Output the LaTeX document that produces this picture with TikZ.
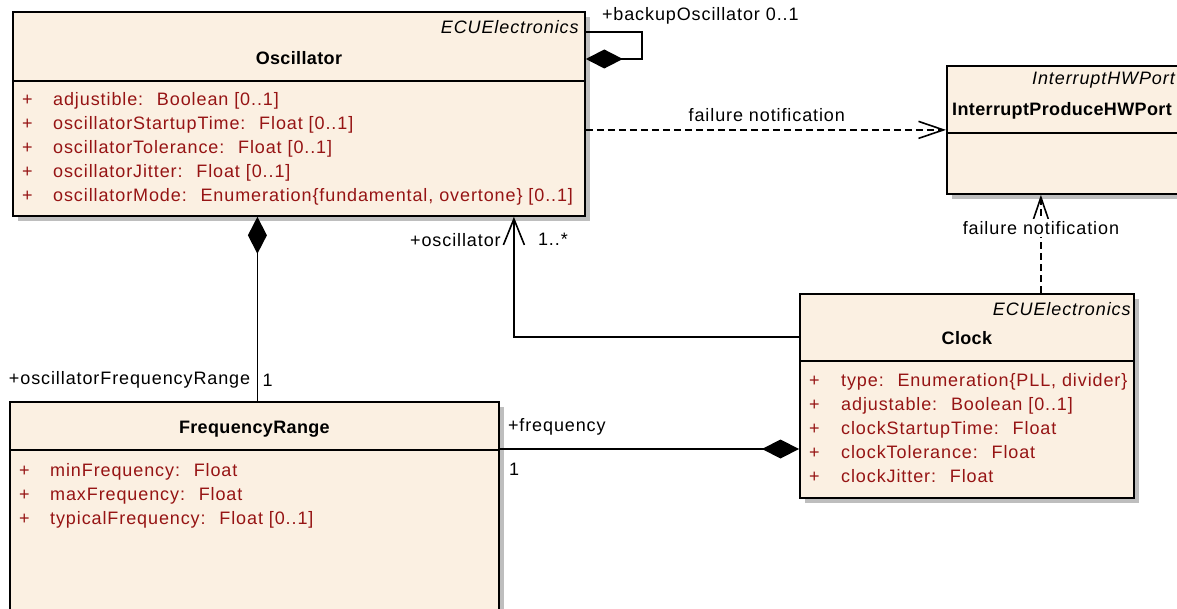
\documentclass[tikz,border=0pt]{standalone}
\usepackage{fontspec}
\setmainfont{Liberation Sans}[LetterSpace=5, BoldFeatures={LetterSpace=2}]
\usepackage{tikz}
\usetikzlibrary{positioning, arrows.meta, calc, shadows}
\usepackage{xcolor}
\definecolor{umlFill}{HTML}{FBF0E2}
\definecolor{umlShadow}{HTML}{BEBEBE}
\definecolor{umlAttr}{HTML}{961414}
\newcommand{\umlsize}{\fontsize{18}{22}\selectfont}

\tikzset{
  classbox/.style={draw=black, line width=1.8pt, fill=umlFill, anchor=north west,
    inner sep=0pt, drop shadow={shadow xshift=5pt, shadow yshift=-5pt, fill=umlShadow, opacity=1}},
  divider/.style={draw=black, line width=1.6pt},
  stereo/.style={anchor=east, font=\umlsize\itshape, inner sep=0pt},
  classname/.style={font=\umlsize\bfseries, inner sep=0pt},
  attr/.style={anchor=base west, text=umlAttr, inner sep=0pt},
  lbl/.style={inner sep=0pt},
  link/.style={draw=black, line width=1.6pt},
  comp/.style={link, -{Diamond[length=37pt, width=19pt]}},
  nav/.style={link, -{Straight Barb[length=26pt, width=21pt, line width=1.6pt]}},
  dep/.style={link, dash pattern=on 7pt off 4pt, -{Straight Barb[length=25pt, width=17pt, line width=1.6pt]}}
}

\begin{document}
\begin{tikzpicture}[x=1pt, y=-1pt, font=\umlsize]
  \useasboundingbox (0,0) rectangle (1177,609);

  % Klassen
  \node[classbox, minimum width=572pt, minimum height=204pt] (osc) at (12,11) {};
  \node[classbox, minimum width=240pt, minimum height=128pt] (port) at (946,65) {};
  \node[classbox, minimum width=334pt, minimum height=204pt] (clk) at (799,293) {};
  \node[classbox, minimum width=489pt, minimum height=230pt] (frq) at (9,401) {};

  \draw[divider] ($(osc.north west)+(0,70)$) -- ($(osc.north east)+(0,70)$);
  \draw[divider] ($(port.north west)+(0,68)$) -- ($(port.north east)+(0,68)$);
  \draw[divider] ($(clk.north west)+(0,68)$) -- ($(clk.north east)+(0,68)$);
  \draw[divider] ($(frq.north west)+(0,49)$) -- ($(frq.north east)+(0,49)$);

  % Oscillator
  \node[stereo] (oscst) at ($(osc.north east)+(-7,16)$) {ECUElectronics};
  \node[classname] (oscname) at ($(osc.north)+(0,47)$) {Oscillator};
  \foreach \a [count=\i] in {%
    {adjustible:~ Boolean [0..1]},
    {oscillatorStartupTime:~ Float [0..1]},
    {oscillatorTolerance:~ Float [0..1]},
    {oscillatorJitter:~ Float [0..1]},
    {oscillatorMode:~ Enumeration\{fundamental, overtone\} [0..1]}%
  } {
    \node[attr] (oscp\i) at ($(osc.north west)+(10,71+24*\i)$) {+};
    \node[attr] (osca\i) at ($(osc.north west)+(41,71+24*\i)$) {\a};
  }

  % InterruptProduceHWPort
  \node[stereo] (portst) at ($(port.north west)+(229,15)$) {InterruptHWPort};
  \node[classname, anchor=west] (portname) at ($(port.north west)+(6,46)$) {InterruptProduceHWPort};

  % Clock
  \node[stereo] (clkst) at ($(clk.north east)+(-4,16)$) {ECUElectronics};
  \node[classname] (clkname) at ($(clk.north)+(0,45)$) {Clock};
  \foreach \a [count=\i] in {%
    {type:~ Enumeration\{PLL, divider\}},
    {adjustable:~ Boolean [0..1]},
    {clockStartupTime:~ Float},
    {clockTolerance:~ Float},
    {clockJitter:~ Float}%
  } {
    \node[attr] (clkp\i) at ($(clk.north west)+(10,69+24*\i)$) {+};
    \node[attr] (clka\i) at ($(clk.north west)+(42,69+24*\i)$) {\a};
  }

  % FrequencyRange
  \node[classname] (frqname) at ($(frq.north)+(0,28)$) {FrequencyRange};
  \foreach \a [count=\i] in {%
    {minFrequency:~ Float},
    {maxFrequency:~ Float},
    {typicalFrequency:~ Float [0..1]}%
  } {
    \node[attr] (frqp\i) at ($(frq.north west)+(10,51+24*\i)$) {+};
    \node[attr] (frqa\i) at ($(frq.north west)+(41,51+24*\i)$) {\a};
  }

  % Anschlusspunkte
  \coordinate (backout) at ($(osc.north east)+(0,21)$);
  \coordinate (backin) at ($(osc.north east)+(0,48)$);
  \coordinate (clkdep) at ($(clk.north)+(74,0)$);
  \coordinate (clkosc) at ($(clk.north west)+(0,44)$);
  \coordinate (oscclk) at ($(osc.south)+(215,0)$);
  \coordinate (frqtop) at ($(frq.north)+(3,0)$);
  \coordinate (frqclk) at ($(frq.north east)+(0,48)$);

  % Beziehungen
  \draw[comp] (backout) -- ++(56,0) |- (backin);
  \node[lbl, anchor=west] (backup) at ($(osc.north east)+(16,5)$) {+backupOscillator 0..1};

  \draw[dep] (port.west -| osc.east) -- (port.west);
  \node[lbl] (depone) at ($(osc.east)+(181,1)$) {failure notification};

  \draw[dep] (clkdep) -- (clkdep |- port.south);
  \node[lbl, fill=white, inner sep=2pt] (deptwo) at ($(clk.north)+(74,-65)$) {failure notification};

  \draw[nav] (clkosc) -| (oscclk);
  \node[lbl, anchor=east] (rolosc) at ($(osc.south)+(202,23)$) {+oscillator};
  \node[lbl, anchor=west] (mulosc) at ($(osc.south)+(239,23)$) {1..*};

  \draw[comp] (frqtop) -- (frqtop |- osc.south);
  \node[lbl, anchor=east] (rolfrq) at ($(frq.north)+(-4,-21)$) {+oscillatorFrequencyRange};
  \node[lbl, anchor=west] (mulfrq) at ($(frq.north)+(8,-21)$) {1};

  \draw[comp] (frqclk) -- (frqclk -| clk.west);
  \node[lbl, anchor=west] (rolfreq) at ($(frq.north east)+(8,26)$) {+frequency};
  \node[lbl, anchor=west] (mulfreq) at ($(frq.north east)+(9,68)$) {1};
\end{tikzpicture}
\end{document}
